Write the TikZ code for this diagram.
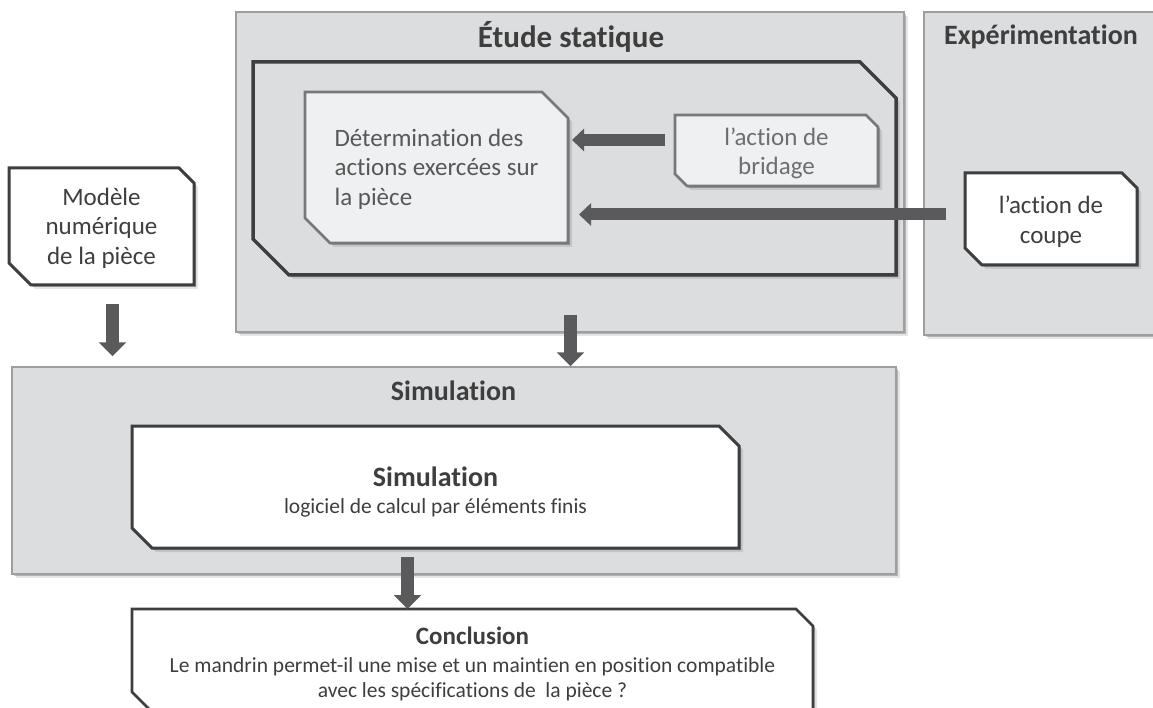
\documentclass[tikz,border=0pt]{standalone}
\usepackage{fontspec}
\setmainfont{Carlito}[Ligatures=NoCommon]
\usetikzlibrary{shadows,arrows.meta}

\definecolor{panel}{RGB}{220,221,223}
\definecolor{panelline}{RGB}{158,158,160}
\definecolor{darkline}{RGB}{62,62,64}
\definecolor{midline}{RGB}{120,120,122}
\definecolor{softfill}{RGB}{239,240,242}
\definecolor{ink}{RGB}{62,62,62}
\definecolor{inksoft}{RGB}{88,88,88}
\definecolor{inklight}{RGB}{110,110,110}
\definecolor{arrowgray}{RGB}{90,90,92}

\pgfdeclarelayer{back}
\pgfsetlayers{back,main}

% outline with the north-east and south-west corners cut off,
% drawn behind the named node: style, node, NE cut, SW cut
\newcommand{\cutoutline}[4]{%
  \begin{pgfonlayer}{back}
  \path[#1] (#2.north west) -- ([xshift=-#3pt]#2.north east)
    -- ([yshift=-#3pt]#2.north east) -- (#2.south east)
    -- ([xshift=#4pt]#2.south west) -- ([yshift=#4pt]#2.south west) -- cycle;
  \end{pgfonlayer}}

\tikzset{
  softshadow/.style={
    drop shadow={shadow xshift=2pt,shadow yshift=-2pt,fill=black,opacity=0.22},
    drop shadow={shadow xshift=4pt,shadow yshift=-4pt,fill=black,opacity=0.10}},
  panelbox/.style={rectangle,draw=panelline,line width=1.5pt,fill=panel,
    softshadow,inner sep=0pt},
  area/.style={rectangle,inner sep=0pt,outer sep=0pt},
  boxtext/.style={inner sep=0pt,align=center,text=ink},
  whiteline/.style={draw=darkline,line width=3pt,fill=white,line join=miter,softshadow},
  greyline/.style={draw=midline,line width=2.6pt,fill=softfill,line join=miter,softshadow},
  frameline/.style={draw=darkline,line width=3.5pt,fill=panel,line join=miter,softshadow},
  title/.style={anchor=base,text=ink,font=\bfseries\fontsize{28}{34}\selectfont},
  body/.style={font=\fontsize{25}{29.5}\selectfont},
  flow/.style={draw=arrowgray,line width=12pt,
    -{Triangle[width=22pt,length=12pt]}},
  flowdown/.style={draw=arrowgray,line width=13pt,
    -{Triangle[width=27pt,length=14pt]}}
}

\begin{document}
\begin{tikzpicture}[x=1pt,y=-1pt]
\useasboundingbox (0,0) rectangle (1153,708);
\clip (0,0) rectangle (1153,708);

% grey panels
\begin{pgfonlayer}{back}
\node[panelbox,minimum width=668pt,minimum height=320pt] (etude) at (570,172) {};
\node[panelbox,minimum width=242pt,minimum height=323pt] (exper) at (1045,173.5) {};
\node[panelbox,minimum width=884pt,minimum height=207pt] (simout) at (454,470.5) {};
\end{pgfonlayer}

\node[title,font=\bfseries\fontsize{31}{36}\selectfont] (etudettl) at (571,48) {Étude statique};
\node[title] (experttl) at (1041,45) {Expérimentation};
\node[title] (simttl) at (453.5,400) {Simulation};

% static study frame and its boxes
\node[area,minimum width=643pt,minimum height=213pt] (etudein) at (574.5,168.5) {};
\cutoutline{frameline}{etudein}{36}{36}

\node[area,minimum width=263pt,minimum height=151pt] (det) at (436.5,167.5) {};
\cutoutline{greyline}{det}{26}{25}
\node[boxtext,body,align=left,text=inksoft] (dettext) at ([yshift=-1.5pt]det.center)
  {Détermination des\\actions exercées sur\\la pièce};

\node[area,minimum width=203pt,minimum height=71pt] (bridage) at (776.5,150.5) {};
\cutoutline{greyline}{bridage}{12}{12}
\node[boxtext,body,text=inklight] (bridagetext) at ([yshift=-3pt]bridage.center)
  {l’action de\\bridage};

\node[area,minimum width=172pt,minimum height=92pt] (coupe) at (1051,219) {};
\cutoutline{whiteline}{coupe}{15}{17}
\node[boxtext,body] (coupetext) at ([yshift=-2.5pt]coupe.center)
  {l’action de\\coupe};

\node[area,minimum width=185pt,minimum height=117pt] (modele) at (101.5,226.5) {};
\cutoutline{whiteline}{modele}{15}{22}
\node[boxtext,body] (modeletext) at ([yshift=-1.5pt]modele.center)
  {Modèle\\numérique\\de la pièce};

% simulation
\node[area,minimum width=607pt,minimum height=122pt] (siminner) at (435.5,487) {};
\cutoutline{whiteline}{siminner}{20}{20}
\node[boxtext,font=\fontsize{21.5}{27}\selectfont] (simtext) at ([yshift=-5pt]siminner.center)
  {{\bfseries\fontsize{28}{27}\selectfont Simulation}\\
   logiciel de calcul par éléments finis};

% conclusion
\node[area,minimum width=681pt,minimum height=101pt] (concl) at (472.5,659.5) {};
\cutoutline{whiteline,line width=2.6pt}{concl}{17}{18}
\node[boxtext,font=\fontsize{21.5}{25}\selectfont] (concltext) at ([yshift=-4pt]concl.center)
  {{\bfseries\fontsize{25}{25}\selectfont Conclusion}\\[3pt]
   Le mandrin permet-il une mise et un maintien en position compatible\\
   avec les spécifications de\ \ la pièce ?};

% connectors
\coordinate (bsrc) at ([yshift=10.5pt]bridage.west);
\draw[flow,shorten <=10pt,shorten >=4pt] (bsrc) -- (bsrc -| det.east);

\coordinate (csrc) at ([yshift=4.5pt]coupe.west);
\draw[flow,shorten <=19pt,shorten >=11pt] (csrc) -- (csrc -| det.east);

\coordinate (msrc) at ([xshift=11pt,yshift=-19pt]modele.south);
\draw[flowdown,shorten >=10pt] (msrc) -- (msrc |- simout.north);

\coordinate (esrc) at ([xshift=-4pt,yshift=-40pt]etudein.south);
\draw[flowdown] (esrc) -- (esrc |- simout.north);

\coordinate (ssrc) at ([xshift=-28pt,yshift=-9pt]siminner.south);
\draw[flowdown] (ssrc) -- (ssrc |- concl.north);
\end{tikzpicture}
\end{document}
